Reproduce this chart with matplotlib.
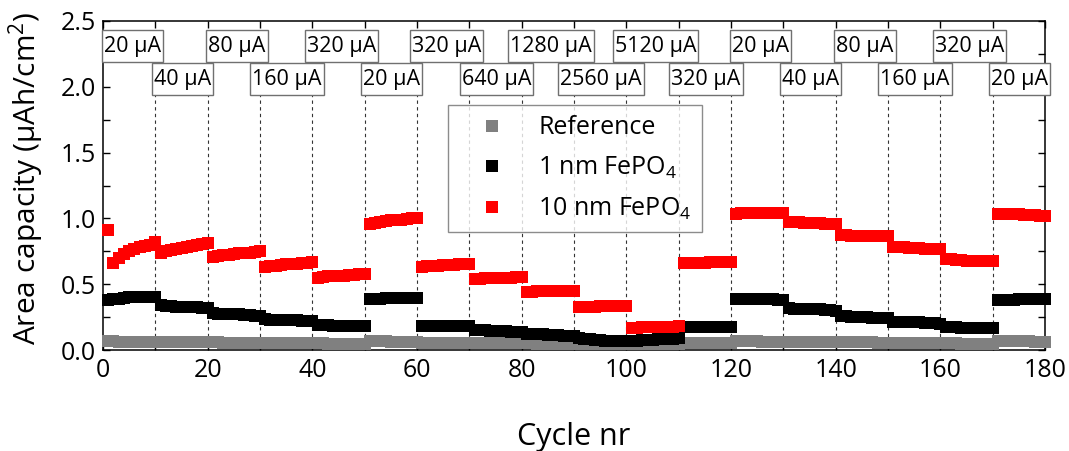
import numpy as np
import matplotlib
matplotlib.use("Agg")
import matplotlib.pyplot as plt
from matplotlib.ticker import MultipleLocator
from matplotlib.patches import Rectangle

plt.rcParams['font.family'] = ['Open Sans', 'DejaVu Sans']
plt.rcParams['mathtext.fontset'] = 'custom'
plt.rcParams['mathtext.rm'] = 'Open Sans'
plt.rcParams['mathtext.default'] = 'regular'

# ---------------- data ----------------
cycles = np.arange(1, 181)

ref_capacity = [
    0.065, 0.065, 0.064, 0.064, 0.064, 0.063, 0.063, 0.063, 0.062, 0.062,
    0.062, 0.061, 0.061, 0.060, 0.060, 0.060, 0.059, 0.059, 0.058, 0.058,
    0.057, 0.057, 0.056, 0.056, 0.056, 0.055, 0.055, 0.055, 0.054, 0.054,
    0.052, 0.052, 0.052, 0.051, 0.051, 0.051, 0.050, 0.050, 0.050, 0.050,
    0.050, 0.050, 0.049, 0.049, 0.049, 0.049, 0.048, 0.048, 0.048, 0.048,
    0.066, 0.066, 0.065, 0.065, 0.064, 0.064, 0.063, 0.063, 0.062, 0.062,
    0.055, 0.055, 0.054, 0.054, 0.054, 0.053, 0.053, 0.053, 0.052, 0.052,
    0.052, 0.052, 0.051, 0.051, 0.051, 0.051, 0.050, 0.050, 0.050, 0.050,
    0.050, 0.050, 0.049, 0.049, 0.049, 0.049, 0.048, 0.048, 0.048, 0.048,
    0.047, 0.047, 0.047, 0.047, 0.047, 0.047, 0.047, 0.047, 0.047, 0.047,
    0.046, 0.046, 0.046, 0.046, 0.046, 0.046, 0.046, 0.046, 0.046, 0.046,
    0.050, 0.050, 0.050, 0.050, 0.050, 0.050, 0.050, 0.050, 0.050, 0.050,
    0.066, 0.066, 0.065, 0.065, 0.065, 0.064, 0.064, 0.064, 0.063, 0.063,
    0.062, 0.062, 0.062, 0.061, 0.061, 0.061, 0.061, 0.060, 0.060, 0.060,
    0.058, 0.058, 0.058, 0.057, 0.057, 0.057, 0.057, 0.056, 0.056, 0.056,
    0.054, 0.054, 0.054, 0.053, 0.053, 0.053, 0.053, 0.052, 0.052, 0.052,
    0.050, 0.050, 0.050, 0.049, 0.049, 0.049, 0.049, 0.048, 0.048, 0.048,
    0.066, 0.066, 0.066, 0.065, 0.065, 0.065, 0.065, 0.064, 0.064, 0.064,
]

fepo4_1nm = [
    0.380, 0.385, 0.390, 0.395, 0.400, 0.400, 0.400, 0.400, 0.400, 0.400,
    0.340, 0.335, 0.335, 0.330, 0.330, 0.330, 0.325, 0.325, 0.320, 0.320,
    0.280, 0.275, 0.275, 0.270, 0.270, 0.270, 0.265, 0.265, 0.260, 0.260,
    0.235, 0.230, 0.230, 0.230, 0.225, 0.225, 0.225, 0.220, 0.220, 0.220,
    0.190, 0.190, 0.190, 0.185, 0.185, 0.185, 0.180, 0.180, 0.180, 0.180,
    0.390, 0.390, 0.390, 0.392, 0.392, 0.392, 0.393, 0.393, 0.393, 0.393,
    0.185, 0.185, 0.180, 0.180, 0.180, 0.180, 0.180, 0.180, 0.180, 0.180,
    0.150, 0.150, 0.150, 0.145, 0.145, 0.145, 0.145, 0.140, 0.140, 0.140,
    0.125, 0.120, 0.120, 0.120, 0.115, 0.115, 0.115, 0.110, 0.110, 0.110,
    0.090, 0.085, 0.080, 0.075, 0.075, 0.070, 0.070, 0.070, 0.065, 0.065,
    0.070, 0.070, 0.075, 0.075, 0.075, 0.080, 0.080, 0.085, 0.085, 0.090,
    0.175, 0.175, 0.175, 0.175, 0.175, 0.175, 0.175, 0.175, 0.175, 0.175,
    0.390, 0.390, 0.390, 0.390, 0.390, 0.390, 0.385, 0.385, 0.380, 0.380,
    0.320, 0.315, 0.315, 0.310, 0.310, 0.310, 0.310, 0.305, 0.305, 0.300,
    0.255, 0.255, 0.250, 0.250, 0.250, 0.250, 0.245, 0.245, 0.245, 0.245,
    0.215, 0.215, 0.210, 0.210, 0.210, 0.210, 0.205, 0.205, 0.205, 0.200,
    0.175, 0.175, 0.175, 0.170, 0.170, 0.170, 0.170, 0.170, 0.165, 0.165,
    0.380, 0.380, 0.380, 0.380, 0.385, 0.385, 0.385, 0.385, 0.385, 0.385,
]

fepo4_10nm = [
    0.910, 0.660, 0.700, 0.730, 0.750, 0.770, 0.780, 0.790, 0.800, 0.820,
    0.740, 0.750, 0.760, 0.770, 0.775, 0.780, 0.790, 0.800, 0.805, 0.810,
    0.710, 0.715, 0.720, 0.725, 0.730, 0.735, 0.740, 0.740, 0.745, 0.750,
    0.630, 0.635, 0.640, 0.645, 0.650, 0.650, 0.655, 0.660, 0.660, 0.665,
    0.550, 0.555, 0.560, 0.560, 0.565, 0.565, 0.570, 0.570, 0.575, 0.575,
    0.960, 0.965, 0.975, 0.980, 0.985, 0.990, 0.990, 0.995, 1.000, 1.000,
    0.630, 0.635, 0.640, 0.640, 0.645, 0.645, 0.645, 0.650, 0.650, 0.650,
    0.540, 0.540, 0.545, 0.545, 0.550, 0.550, 0.550, 0.550, 0.555, 0.555,
    0.440, 0.440, 0.445, 0.445, 0.445, 0.450, 0.450, 0.450, 0.450, 0.450,
    0.330, 0.330, 0.330, 0.330, 0.332, 0.332, 0.332, 0.333, 0.333, 0.333,
    0.170, 0.170, 0.172, 0.173, 0.174, 0.175, 0.176, 0.177, 0.178, 0.180,
    0.660, 0.660, 0.662, 0.663, 0.664, 0.665, 0.666, 0.667, 0.668, 0.670,
    1.035, 1.038, 1.040, 1.040, 1.042, 1.042, 1.042, 1.042, 1.040, 1.040,
    0.970, 0.970, 0.970, 0.965, 0.965, 0.965, 0.965, 0.960, 0.960, 0.960,
    0.875, 0.875, 0.870, 0.870, 0.870, 0.870, 0.870, 0.870, 0.870, 0.870,
    0.780, 0.780, 0.780, 0.775, 0.775, 0.775, 0.770, 0.770, 0.770, 0.770,
    0.690, 0.690, 0.685, 0.685, 0.680, 0.680, 0.680, 0.680, 0.680, 0.680,
    1.030, 1.030, 1.030, 1.030, 1.030, 1.025, 1.025, 1.025, 1.020, 1.020,
]

series_labels = ['Reference', r'1 nm FePO$_4$', r'10 nm FePO$_4$']
series_colors = ['#808080', '#000000', '#ff0000']

# current labels (segment start cycle, label) for the two rows of boxes
row1_starts = [0, 20, 40, 60, 80, 100, 120, 140, 160]
row1_labels = ['20 µA', '80 µA', '320 µA', '320 µA', '1280 µA', '5120 µA',
               '20 µA', '80 µA', '320 µA']
row2_starts = [10, 30, 50, 70, 90, 110, 130, 150, 170]
row2_labels = ['40 µA', '160 µA', '20 µA', '640 µA', '2560 µA', '320 µA',
               '40 µA', '160 µA', '20 µA']
boundaries = list(range(10, 180, 10))

# ---------------- figure ----------------
fig = plt.figure(figsize=(10.69, 4.51), dpi=100)
ax = fig.add_axes([103 / 1069, 101 / 451, 942 / 1069, 329 / 451])

ax.vlines(boundaries, 0, 1.95, colors='#333333', linestyles=(0, (3, 3)),
          linewidth=0.8, zorder=1)

for vals, lab, col in zip([ref_capacity, fepo4_1nm, fepo4_10nm],
                          series_labels, series_colors):
    ax.plot(cycles, vals, 's', color=col, markersize=9.0,
            markeredgewidth=0, label=lab, zorder=3, clip_on=False)

ax.set_xlim(0, 180)
ax.set_ylim(0, 2.5)
ax.xaxis.set_major_locator(MultipleLocator(20))
ax.xaxis.set_minor_locator(MultipleLocator(10))
ax.yaxis.set_major_locator(MultipleLocator(0.5))
ax.yaxis.set_minor_locator(MultipleLocator(0.25))
ax.yaxis.set_major_formatter(plt.FormatStrFormatter('%.1f'))
ax.tick_params(which='both', direction='in', top=True, right=True,
               width=1.0, labelsize=18)
ax.tick_params(which='major', length=5)
ax.tick_params(which='minor', length=5)
ax.tick_params(axis='x', pad=6)
ax.tick_params(axis='y', pad=5)
for sp in ax.spines.values():
    sp.set_linewidth(1.1)

ax.set_xlabel('Cycle nr', fontsize=22, labelpad=28)
ax.set_ylabel('Area capacity (µAh/cm$^2$)', fontsize=21.5)
ax.yaxis.set_label_coords(-0.06, 0.523)

# current label boxes: text first, then rectangles sized to the text
row_half = 0.12
texts = []
for starts, labels, yc, dx in [(row1_starts, row1_labels, 2.31, 5.6),
                               (row2_starts, row2_labels, 2.06, 5.2)]:
    for s, lab in zip(starts, labels):
        t = ax.text(s + dx, yc - 0.005, lab, ha='center', va='center',
                    fontsize=15.5, zorder=6, clip_on=False)
        texts.append((t, yc))

fig.canvas.draw()
renderer = fig.canvas.get_renderer()
inv = ax.transData.inverted()
for t, yc in texts:
    bb = t.get_window_extent(renderer)
    x0 = inv.transform((bb.x0 - 2, 0))[0]
    x1 = inv.transform((bb.x1 + 2, 0))[0]
    ax.add_patch(Rectangle((x0, yc - row_half), x1 - x0, 2 * row_half,
                           facecolor='white', edgecolor='#707070',
                           linewidth=1.0, zorder=5, clip_on=False))

leg = ax.legend(loc='upper left', bbox_to_anchor=(0.366, 0.745),
                fontsize=18, frameon=True, fancybox=False,
                edgecolor='#707070', handlelength=2.7, handletextpad=0.5,
                borderpad=0.42, labelspacing=0.58, borderaxespad=0,
                markerscale=1.0, numpoints=1)
leg.get_frame().set_linewidth(1.0)
leg.set_zorder(7)

fig.savefig('out.png', dpi=100)
